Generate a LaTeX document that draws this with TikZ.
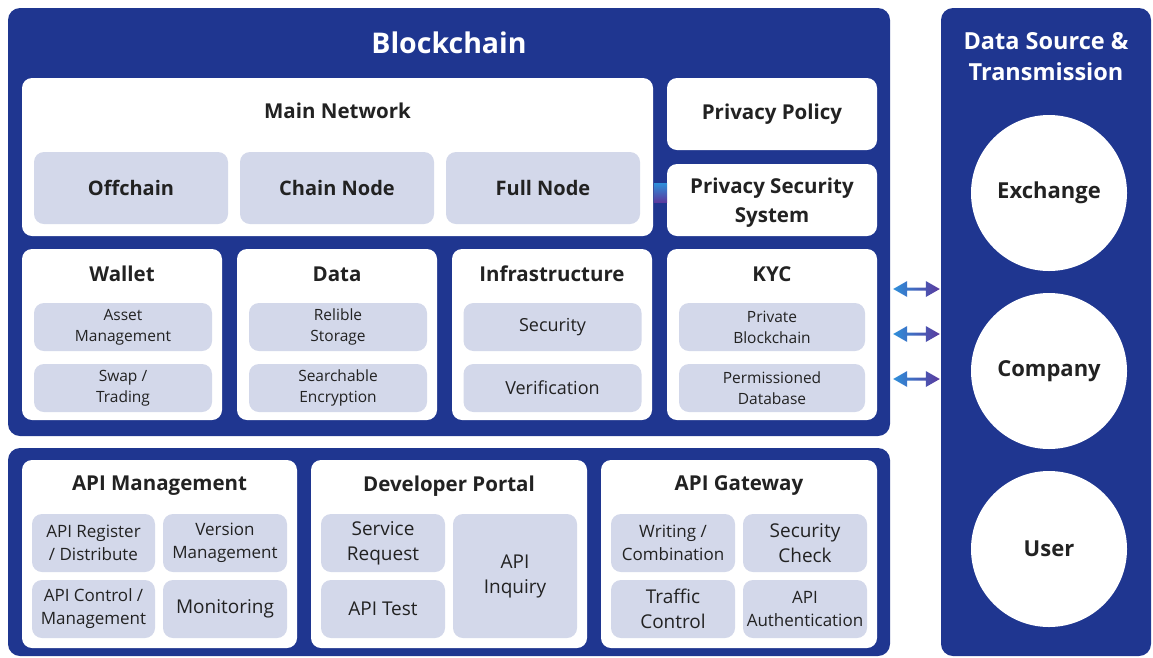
\documentclass[tikz,border=0pt]{standalone}
\usepackage{fontspec}
\setmainfont{Open Sans}
\usetikzlibrary{calc}
\definecolor{navy}{HTML}{1F3690}
\definecolor{subfill}{HTML}{D3D8EA}
\definecolor{ink}{HTML}{222222}
\definecolor{arrL}{HTML}{2E8FDA}
\definecolor{arrR}{HTML}{5A3A9E}
\tikzset{
  outer/.style={fill=navy, rounded corners=12pt, inner sep=0pt},
  wbox/.style={fill=white, rounded corners=10pt, inner sep=0pt},
  sbox/.style={fill=subfill, rounded corners=10pt, inner sep=0pt, text=ink, align=center},
  circ/.style={circle, fill=white, minimum size=156pt, inner sep=0pt, text=ink, font=\fontsize{22}{24}\selectfont\bfseries},
  ttl/.style={text=ink, font=\fontsize{20.5}{24}\selectfont\bfseries, align=center},
  mainlbl/.style={font=\fontsize{20}{24}\selectfont\bfseries},
  smalllbl/.style={font=\fontsize{15.5}{21}\selectfont},
  botlbl/.style={font=\fontsize{17}{23}\selectfont},
}
\begin{document}
\begin{tikzpicture}[x=1pt,y=-1pt]
\useasboundingbox (0,0) rectangle (1153,657);
% outer boxes
\node[outer, minimum width=882pt, minimum height=428pt] (bc) at (449,222) {};
\node[outer, minimum width=882pt, minimum height=208pt] (api) at (449,552) {};
\node[outer, minimum width=210pt, minimum height=648pt] (ds) at (1046,332) {};
\node[text=white, font=\fontsize{28.5}{32}\selectfont\bfseries] (bct) at (449,43) {Blockchain};
\node[text=white, font=\fontsize{23.5}{31}\selectfont\bfseries, align=center] (dst) at (1046,57) {Data Source \&\\Transmission};

% main network
\node[wbox, minimum width=631pt, minimum height=158pt] (mn) at (337.5,157) {};
\node[ttl] (mnt) at (337.5,111) {Main Network};
\node[sbox, mainlbl, minimum width=194pt, minimum height=72pt] (off) at (131,188) {Offchain};
\node[sbox, mainlbl, minimum width=194pt, minimum height=72pt] (cn) at (337,188) {Chain Node};
\node[sbox, mainlbl, minimum width=194pt, minimum height=72pt] (fn) at (543,188) {Full Node};

% privacy
\node[wbox, ttl, minimum width=210pt, minimum height=72pt] (pp) at (772,114) {Privacy Policy};
\node[wbox, minimum width=210pt, minimum height=72pt] (pss) at (772,200) {};
\node[ttl, font=\fontsize{20.5}{29}\selectfont\bfseries] (psst) at (772,202.5) {Privacy Security\\System};
\shade[top color=arrL, bottom color=arrR] (654,183) rectangle (667,202);

% row 2
\node[wbox, minimum width=200pt, minimum height=171pt] (wal) at (122,334.5) {};
\node[ttl] at (122,274) {Wallet};
\node[sbox, smalllbl, minimum width=178pt, minimum height=48pt] (am) at (123,327) {Asset\\Management};
\node[sbox, smalllbl, minimum width=178pt, minimum height=48pt] (sw) at (123,388) {Swap /\\Trading};

\node[wbox, minimum width=200pt, minimum height=171pt] (dat) at (337,334.5) {};
\node[ttl] at (337,274) {Data};
\node[sbox, smalllbl, minimum width=178pt, minimum height=48pt] (rs) at (338,327) {Relible\\Storage};
\node[sbox, smalllbl, minimum width=178pt, minimum height=48pt] (se) at (338,388) {Searchable\\Encryption};

\node[wbox, minimum width=200pt, minimum height=171pt] (inf) at (552,334.5) {};
\node[ttl] at (552,274) {Infrastructure};
\node[sbox, font=\fontsize{18}{22}\selectfont, minimum width=178pt, minimum height=48pt] (sec) at (552.5,327) {Security};
\node[sbox, font=\fontsize{18}{22}\selectfont, minimum width=178pt, minimum height=48pt] (ver) at (552.5,388) {Verification};

\node[wbox, minimum width=210pt, minimum height=171pt] (kyc) at (772,334.5) {};
\node[ttl] at (772,274) {KYC};
\node[sbox, smalllbl, minimum width=186pt, minimum height=48pt] (pb) at (772,327) {Private\\Blockchain};
\node[sbox, smalllbl, minimum width=186pt, minimum height=48pt] (pd) at (772,388) {Permissioned\\Database};

% bottom
\node[wbox, minimum width=275pt, minimum height=188pt] (apm) at (159.5,554) {};
\node[ttl] at (159.5,486) {API Management};
\node[sbox, botlbl, minimum width=123pt, minimum height=58pt] (reg) at (93.5,543) {API Register\\/ Distribute};
\node[sbox, botlbl, minimum width=124pt, minimum height=58pt] (vm) at (225,543) {Version\\Management};
\node[sbox, botlbl, minimum width=123pt, minimum height=58pt] (ctl) at (93.5,609) {API Control /\\Management};
\node[sbox, font=\fontsize{19}{24}\selectfont, minimum width=124pt, minimum height=58pt] (mon) at (225,609) {Monitoring};

\node[wbox, minimum width=276pt, minimum height=188pt] (dev) at (449,554) {};
\node[ttl] at (449,486) {Developer Portal};
\node[sbox, font=\fontsize{19}{25}\selectfont, minimum width=124pt, minimum height=58pt] (sr) at (383,543) {Service\\Request};
\node[sbox, font=\fontsize{19}{25}\selectfont, minimum width=124pt, minimum height=58pt] (at) at (383,609) {API Test};
\node[sbox, font=\fontsize{19}{25}\selectfont, minimum width=124pt, minimum height=124pt] (ai) at (515,576) {API\\Inquiry};

\node[wbox, minimum width=276pt, minimum height=188pt] (gw) at (739,554) {};
\node[ttl] at (739,486) {API Gateway};
\node[sbox, botlbl, minimum width=124pt, minimum height=58pt] (wc) at (673,543) {Writing /\\Combination};
\node[sbox, font=\fontsize{19}{25}\selectfont, minimum width=124pt, minimum height=58pt] (sc) at (805,543) {Security\\Check};
\node[sbox, font=\fontsize{19}{25}\selectfont, minimum width=124pt, minimum height=58pt] (tc) at (673,609) {Traffic\\Control};
\node[sbox, botlbl, minimum width=124pt, minimum height=58pt] (aa) at (805,609) {API\\Authentication};

% circles
\node[circ] (ex) at (1049,193) {Exchange};
\node[circ] (co) at (1049,371) {Company};
\node[circ] (us) at (1049,549) {User};

% arrows
\foreach \yy/\nm in {289/a1,334/a2,379/a3}{
  \coordinate (\nm l) at ($(bc.east |- 0,\yy)+(3,0)$);
  \coordinate (\nm r) at ($(ds.west |- 0,\yy)+(-1,0)$);
  \shade[left color=arrL, right color=arrR]
    (\nm l) -- ++(14,-8) -- ++(0,6.5) -- ($(\nm r)+(-14,-1.5)$) -- ++(0,-6.5) -- (\nm r)
    -- ++(-14,8) -- ++(0,-6.5) -- ($(\nm l)+(14,1.5)$) -- ++(0,6.5) -- cycle;
}
\end{tikzpicture}
\end{document}
